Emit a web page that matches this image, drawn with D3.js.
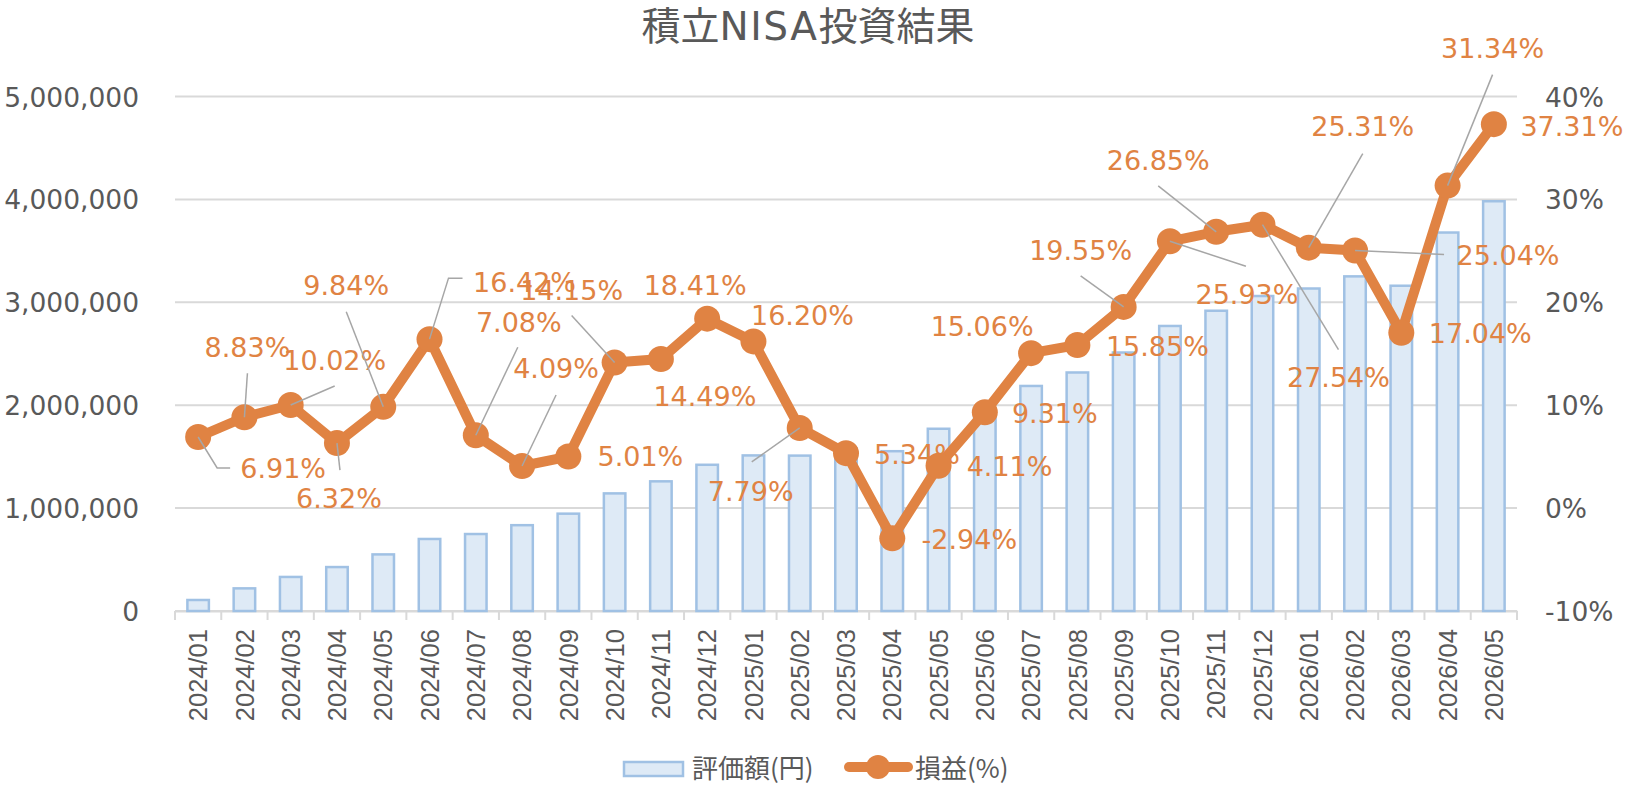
<!DOCTYPE html>
<html>
<head>
<meta charset="utf-8">
<script src="https://cdn.jsdelivr.net/npm/d3@7"></script>
<style>
  html, body { margin: 0; padding: 0; background: #fff; }
  svg { display: block; }
</style>
</head>
<body>
<div id="chart"></div>
<script>
// data
const months = [
  '2024/01', '2024/02', '2024/03', '2024/04', '2024/05', '2024/06', '2024/07', '2024/08',
  '2024/09', '2024/10', '2024/11', '2024/12', '2025/01', '2025/02', '2025/03', '2025/04',
  '2025/05', '2025/06', '2025/07', '2025/08', '2025/09', '2025/10', '2025/11', '2025/12',
  '2026/01', '2026/02', '2026/03', '2026/04', '2026/05'
];
// 評価額 (円)
const values = [
  107000, 220000, 331000, 427000, 550000, 700000, 748000, 834000,
  946000, 1143000, 1260000, 1421000, 1512000, 1510000, 1580000, 1553000,
  1771000, 1968000, 2187000, 2318000, 2512000, 2770000, 2918000, 3061000,
  3134000, 3252000, 3161000, 3678000, 3982000
];
// 損益 (%)
const returns = [
  6.91, 8.83, 10.02, 6.32, 9.84, 16.42, 7.08, 4.09,
  5.01, 14.15, 14.49, 18.41, 16.20, 7.79, 5.34, -2.94,
  4.11, 9.31, 15.06, 15.85, 19.55, 25.93, 26.85, 27.54,
  25.31, 25.04, 17.04, 31.34, 37.31
];
const leftTicks = [0, 1000000, 2000000, 3000000, 4000000, 5000000];
const rightTicks = [-10, 0, 10, 20, 30, 40];
const legendNames = ['評価額(円)', '損益(%)'];
const titleParts = ['積立', 'NISA', '投資結果'];

// label placement (offset of label centre from its point), moved by hand like in the workbook
const labelOffsets = [
  [85, 31], [3, -70], [44, -45], [2, 55], [-37, -122], [95, -57], [43, -113], [34, -98],
  [72, 0], [-43, -72], [44, 37], [-12, -33], [49, -26], [-49, 63], [71, 1], [77, 1],
  [71, 0], [70, 1], [-49, -27], [80, 1], [-43, -57], [77, 53], [-58, -72], [76, 153],
  [54, -121], [153, 5], [79, 1], [45, -137], [78, 2]
];
// leader lines: points after the data point, as offsets
const leaders = {
  0: [[19, 31], [32, 31]], 1: [[3, -44]], 2: [[44, -19]], 3: [[3, 27]], 4: [[-37, -95]],
  5: [[19, -61], [33, -61]], 6: [[42, -88]], 7: [[34, -71]], 9: [[-43, -47]], 13: [[-48, 34]],
  20: [[-43, -31]], 21: [[76, 25]], 22: [[-58, -46]], 23: [[76, 125]], 24: [[54, -94]],
  25: [[89, 4]], 27: [[45, -111]]
};

// dimensions
const WIDTH = 1630;
const HEIGHT = 802;
const PLOT_LEFT = 175;
const PLOT_RIGHT = 1517;
const PLOT_TOP = 96.5;
const PLOT_BOTTOM = 611;

const ORANGE = '#E08343';
const BAR_FILL = '#DEEAF6';
const BAR_STROKE = '#A0C1E4';
const GRID = '#D9D9D9';
const TEXT = '#595959';
const NUM_FONT = '"DejaVu Sans", Verdana, sans-serif';
const CJK_FONT = '"Noto Sans CJK JP", "Noto Sans", sans-serif';

const $svg = d3.select('#chart').append('svg')
  .attr('width', WIDTH)
  .attr('height', HEIGHT);

// scales
const scaleX = d3.scaleBand().domain(months).range([PLOT_LEFT, PLOT_RIGHT]).padding(0);
const scaleY = d3.scaleLinear().domain([0, 5000000]).range([PLOT_BOTTOM, PLOT_TOP]);
const scaleY2 = d3.scaleLinear().domain([-10, 40]).range([PLOT_BOTTOM, PLOT_TOP]);
const cx = (d) => scaleX(d) + scaleX.bandwidth() / 2;

// title (latin part is wider in the original)
$svg.append('text')
  .attr('x', 808)
  .attr('y', 40)
  .attr('text-anchor', 'middle')
  .style('font-family', CJK_FONT)
  .style('font-size', '39px')
  .style('fill', TEXT)
  .selectAll('tspan')
  .data(titleParts)
  .join('tspan')
  .style('font-family', (d, i) => (i === 1 ? NUM_FONT : CJK_FONT))
  .style('letter-spacing', (d, i) => (i === 1 ? '1.5px' : '0px'))
  .text((d) => d);

// gridlines
$svg.append('g').attr('class', 'g-grid')
  .selectAll('line')
  .data(leftTicks)
  .join('line')
  .attr('x1', PLOT_LEFT)
  .attr('x2', PLOT_RIGHT)
  .attr('y1', (d) => scaleY(d))
  .attr('y2', (d) => scaleY(d))
  .attr('stroke', GRID)
  .attr('stroke-width', 2);

// left axis
const $left = $svg.append('g')
  .attr('transform', `translate(${PLOT_LEFT - 36},0)`)
  .call(d3.axisLeft(scaleY).tickValues(leftTicks).tickSize(0).tickPadding(0)
    .tickFormat(d3.format(',')));
$left.select('.domain').remove();
$left.selectAll('text')
  .attr('dy', '0.36em')
  .style('font-family', NUM_FONT)
  .style('font-size', '26.5px')
  .style('fill', TEXT);

// right axis
const $right = $svg.append('g')
  .attr('transform', `translate(${PLOT_RIGHT + 28},0)`)
  .call(d3.axisRight(scaleY2).tickValues(rightTicks).tickSize(0).tickPadding(0)
    .tickFormat((d) => `${d}%`));
$right.select('.domain').remove();
$right.selectAll('text')
  .attr('dy', '0.36em')
  .style('font-family', NUM_FONT)
  .style('font-size', '26.5px')
  .style('fill', TEXT);

// bottom axis
const $bottom = $svg.append('g')
  .attr('transform', `translate(0,${PLOT_BOTTOM})`)
  .call(d3.axisBottom(scaleX).tickSize(0).tickPadding(0));
$bottom.select('.domain').attr('stroke', GRID).attr('stroke-width', 2);
$bottom.selectAll('.tick text')
  .attr('transform', 'rotate(-90)')
  .attr('x', -18)
  .attr('y', 0)
  .attr('dy', '0.36em')
  .attr('text-anchor', 'end')
  .style('font-family', '"Liberation Sans", Arial, sans-serif')
  .style('font-size', '25.5px')
  .style('fill', TEXT);
// tick marks between categories
$bottom.append('g')
  .selectAll('line')
  .data(months.concat(['end']))
  .join('line')
  .attr('x1', (d, i) => PLOT_LEFT + i * scaleX.step())
  .attr('x2', (d, i) => PLOT_LEFT + i * scaleX.step())
  .attr('y1', 0)
  .attr('y2', 9)
  .attr('stroke', GRID)
  .attr('stroke-width', 2);

// bars
const BAR_W = 21.5;
$svg.append('g').attr('class', 'g-bars')
  .selectAll('rect')
  .data(values)
  .join('rect')
  .attr('x', (d, i) => cx(months[i]) - BAR_W / 2)
  .attr('y', (d) => scaleY(d))
  .attr('width', BAR_W)
  .attr('height', (d) => scaleY(0) - scaleY(d))
  .attr('fill', BAR_FILL)
  .attr('stroke', BAR_STROKE)
  .attr('stroke-width', 2.5);

// data labels (under the line, like the original)
const points = returns.map((v, i) => [cx(months[i]), scaleY2(v)]);
$svg.append('g').attr('class', 'g-labels')
  .selectAll('text')
  .data(returns)
  .join('text')
  .attr('x', (d, i) => points[i][0] + labelOffsets[i][0])
  .attr('y', (d, i) => points[i][1] + labelOffsets[i][1])
  .attr('dy', '0.36em')
  .attr('text-anchor', 'middle')
  .style('font-family', NUM_FONT)
  .style('font-size', '27px')
  .style('fill', ORANGE)
  .text((d) => `${d.toFixed(2)}%`);

// line + markers
$svg.append('path')
  .datum(points)
  .attr('d', d3.line())
  .attr('fill', 'none')
  .attr('stroke', ORANGE)
  .attr('stroke-width', 10)
  .attr('stroke-linejoin', 'round');
$svg.append('g').attr('class', 'g-markers')
  .selectAll('circle')
  .data(points)
  .join('circle')
  .attr('cx', (d) => d[0])
  .attr('cy', (d) => d[1])
  .attr('r', 13)
  .attr('fill', ORANGE);

// leader lines
const leaderLine = d3.line();
$svg.append('g').attr('class', 'g-leaders')
  .selectAll('path')
  .data(Object.keys(leaders))
  .join('path')
  .attr('d', (k) => {
    const p = points[k];
    return leaderLine([p].concat(leaders[k].map((o) => [p[0] + o[0], p[1] + o[1]])));
  })
  .attr('fill', 'none')
  .attr('stroke', '#A6A6A6')
  .attr('stroke-width', 1.5);

// legend
const $legend = $svg.append('g').attr('class', 'g-legend');
$legend.append('rect')
  .attr('x', 624)
  .attr('y', 762)
  .attr('width', 59)
  .attr('height', 14)
  .attr('fill', BAR_FILL)
  .attr('stroke', BAR_STROKE)
  .attr('stroke-width', 2.5);
$legend.append('line')
  .attr('x1', 849).attr('x2', 908)
  .attr('y1', 767).attr('y2', 767)
  .attr('stroke', ORANGE)
  .attr('stroke-width', 10)
  .attr('stroke-linecap', 'round');
$legend.append('circle')
  .attr('cx', 878)
  .attr('cy', 767)
  .attr('r', 12)
  .attr('fill', ORANGE);
$legend.selectAll('text')
  .data(legendNames)
  .join('text')
  .attr('x', (d, i) => (i === 0 ? 692 : 915))
  .attr('y', 766)
  .attr('dominant-baseline', 'central')
  .style('font-family', CJK_FONT)
  .style('font-size', '26px')
  .style('fill', TEXT)
  .text((d) => d);
</script>
</body>
</html>
